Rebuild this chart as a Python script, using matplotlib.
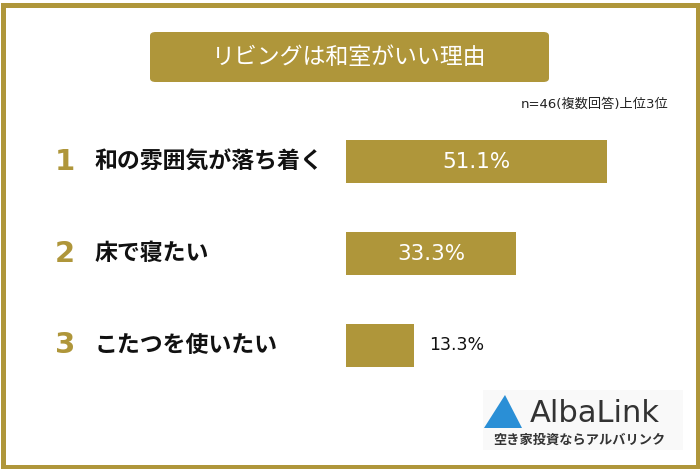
import matplotlib.pyplot as plt
from matplotlib.patches import Rectangle, FancyBboxPatch, Polygon

plt.rcParams['font.family'] = ['Noto Sans CJK JP', 'DejaVu Sans']

title = 'リビングは和室がいい理由'
note = 'n=46(複数回答)上位3位'
ranks = ['1', '2', '3']
labels = ['和の雰囲気が落ち着く', '床で寝たい', 'こたつを使いたい']
values = [51.1, 33.3, 13.3]

gold = '#AF963A'
W, H = 700, 469

fig = plt.figure(figsize=(7, 4.69), dpi=100)
fig.patch.set_facecolor('white')


def fx(px):
    return px / W


def fy(py):
    return 1 - py / H


# frame around the whole picture
fig.patches.append(Rectangle((fx(2.5), fy(466.5)), fx(695), 1 - fy(461), transform=fig.transFigure,
                             fill=False, edgecolor=gold, linewidth=5 * 72 / 100))

# title box
fig.patches.append(FancyBboxPatch((fx(150), fy(82)), fx(399), 1 - fy(50), transform=fig.transFigure,
                                  boxstyle='round,pad=0,rounding_size=0.008', facecolor=gold, edgecolor='none'))
fig.text(fx(349), fy(57), title, color='white', fontsize=16.5, ha='center', va='center')
fig.text(fx(668), fy(104), note, color='#222222', fontsize=9.5, ha='right', va='center',
         family=['DejaVu Sans', 'Noto Sans CJK JP'])

# bars
ax = fig.add_axes([fx(346), fy(391), 1 - fx(346), (391 - 116) / H])
y = list(range(len(values)))
ax.barh(y, values, height=0.47, color=gold)
ax.set_xlim(0, (W - 346) / 5.1)
ax.set_ylim(len(values) - 0.5, -0.5)
ax.axis('off')

for i, v in enumerate(values):
    if v > 20:
        ax.text(v / 2, i, f'{v:.1f}%', color='white', fontsize=15.5,
                ha='center', va='center', family='DejaVu Sans')
    else:
        ax.text(v + 3, i, f'{v:.1f}%', color='#111111', fontsize=12.5,
                ha='left', va='center', family='DejaVu Sans')

# rank numbers and labels
for i, (r, lab) in enumerate(zip(ranks, labels)):
    yc = ax.transData.transform((0, i))
    yfig = fig.transFigure.inverted().transform(yc)[1]
    fig.text(fx(65), yfig, r, color=gold, fontsize=21, fontweight='bold', ha='center', va='center',
             family='DejaVu Sans')
    fig.text(fx(95), yfig, lab, color='#111111', fontsize=16.5, fontweight='bold', ha='left', va='center')

# logo
fig.patches.append(Rectangle((fx(483), fy(450)), fx(200), 1 - fy(60), transform=fig.transFigure,
                             facecolor='#F9F9F9', edgecolor='none'))
fig.patches.append(Polygon([(fx(484), fy(428)), (fx(505), fy(395)), (fx(522), fy(428))],
                           closed=True, transform=fig.transFigure, facecolor='#2A8FD6', edgecolor='none'))
fig.text(fx(530), fy(413), 'AlbaLink', color='#333333', fontsize=22, ha='left', va='center',
         family='DejaVu Sans')
fig.text(fx(579), fy(440), '空き家投資ならアルバリンク', color='#333333', fontsize=9.5,
         fontweight='bold', ha='center', va='center')

fig.savefig('out.png', dpi=100, facecolor='white')
